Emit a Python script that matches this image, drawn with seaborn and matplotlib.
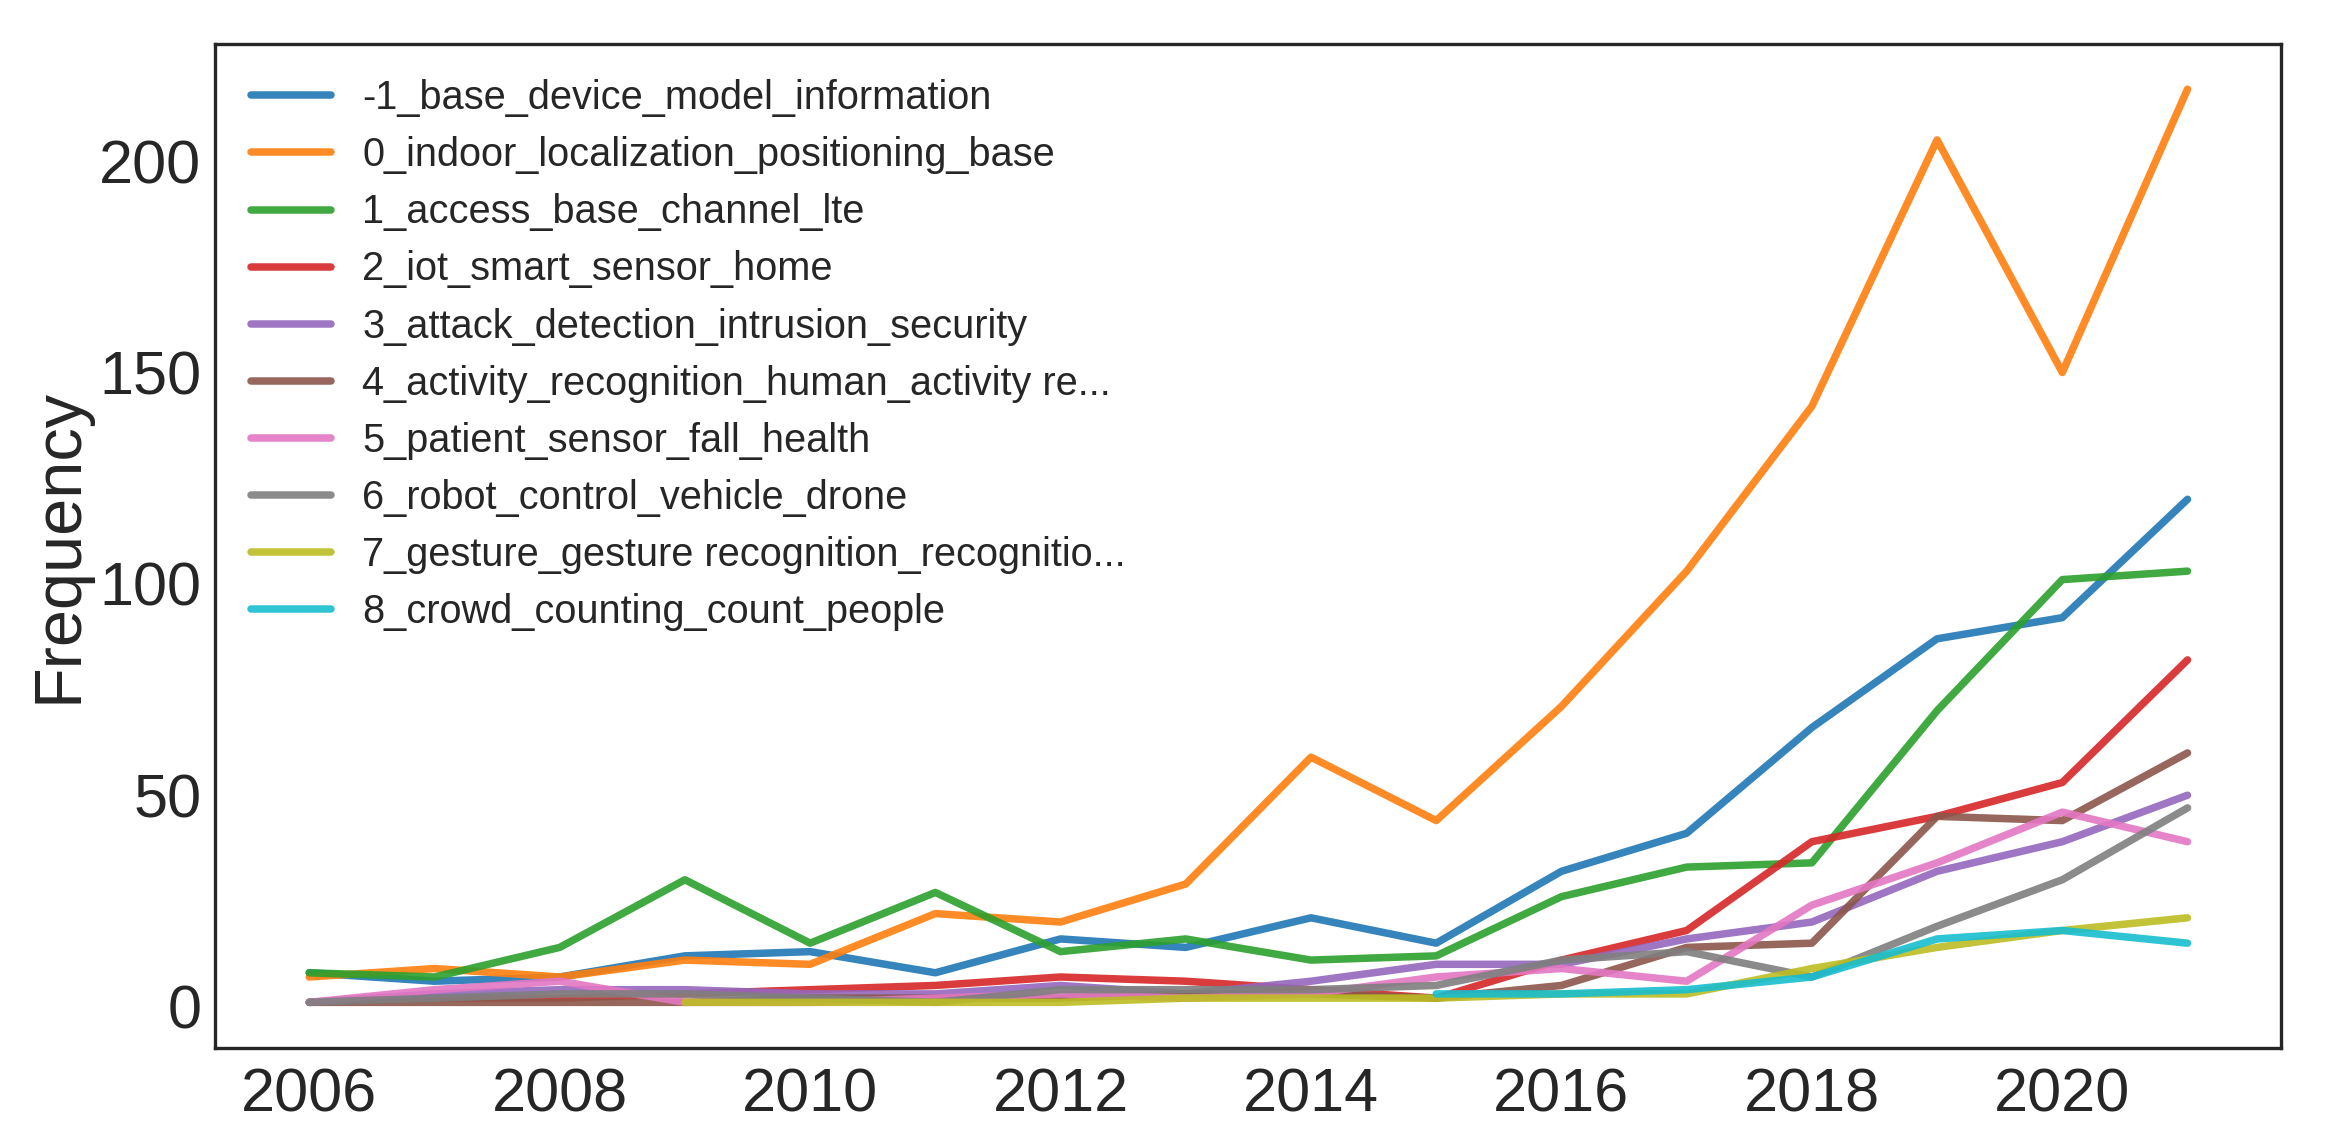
"""Topic frequency over time: one line per topic, seaborn lineplot."""
import matplotlib
matplotlib.use("Agg")
import matplotlib.pyplot as plt
import numpy as np
import pandas as pd
import seaborn as sns

YEARS = list(range(2006, 2022))

TOPICS = [
    "-1_base_device_model_information",
    "0_indoor_localization_positioning_base",
    "1_access_base_channel_lte",
    "2_iot_smart_sensor_home",
    "3_attack_detection_intrusion_security",
    "4_activity_recognition_human_activity re...",
    "5_patient_sensor_fall_health",
    "6_robot_control_vehicle_drone",
    "7_gesture_gesture recognition_recognitio...",
    "8_crowd_counting_count_people",
]

# frequencies per year, 2006..2021 (None = topic absent that year)
freq_base = [8, 6, 7, 12, 13, 8, 16, 14, 21, 15, 32, 41, 66, 87, 92, 120]
freq_indoor = [7, 9, 7, 11, 10, 22, 20, 29, 59, 44, 71, 103, 142, 205, 150, 217]
freq_access = [8, 7, 14, 30, 15, 27, 13, 16, 11, 12, 26, 33, 34, 70, 101, 103]
freq_iot = [1, 2, 2, 3, 4, 5, 7, 6, 4, 2, 11, 18, 39, 45, 53, 82]
freq_attack = [1, 3, 4, 4, 3, 3, 5, 3, 6, 10, 10, 16, 20, 32, 39, 50]
freq_activity = [1, 1, 1, 1, 2, 2, 2, 3, 3, 2, 5, 14, 15, 45, 44, 60]
freq_patient = [1, 4, 6, 1, 1, 2, 3, 2, 3, 7, 9, 6, 24, 34, 46, 39]
freq_robot = [1, 2, 3, 3, 2, 1, 4, 4, 4, 5, 11, 13, 7, 19, 30, 47]
freq_gesture = [None, None, None, 1, 1, 1, 1, 2, 2, 2, 3, 3, 9, 14, 18, 21]
freq_crowd = [None] * 9 + [3, 3, 4, 7, 16, 18, 15]

SERIES = [freq_base, freq_indoor, freq_access, freq_iot, freq_attack,
          freq_activity, freq_patient, freq_robot, freq_gesture, freq_crowd]


def build_frame() -> pd.DataFrame:
    rows = []
    for topic, values in zip(TOPICS, SERIES):
        for year, v in zip(YEARS, values):
            if v is not None:
                rows.append({"Timestamp": year, "Frequency": v, "Topic": topic})
    return pd.DataFrame(rows)


def plot(output_path: str = "out.png") -> None:
    sns.set_style("white")
    plt.rcParams["font.family"] = ["Liberation Sans", "DejaVu Sans"]

    df = build_frame()
    fig, ax = plt.subplots(figsize=(11.64, 5.73), dpi=200)
    sns.lineplot(
        data=df, x="Timestamp", y="Frequency", hue="Topic",
        hue_order=TOPICS, palette="tab10", linewidth=2.7, alpha=0.9, ax=ax,
    )

    for spine in ax.spines.values():
        spine.set_visible(True)
        spine.set_color("#262626")
        spine.set_linewidth(1.2)

    ax.set_xlabel("")
    ax.set_ylabel("Frequency", fontsize=24, labelpad=3)
    ax.tick_params(axis="both", labelsize=22)
    ax.tick_params(axis="y", pad=1.5)
    ax.set_yticks([0, 50, 100, 150, 200])

    leg = ax.legend(loc="upper left", fontsize=14.3, frameon=False, labelspacing=0.48)
    for line in leg.get_lines():
        line.set_linewidth(2.7)
        line.set_alpha(0.9)

    fig.subplots_adjust(left=0.0925, right=0.98, top=0.962, bottom=0.0855)
    fig.savefig(output_path, dpi=200)
    plt.close(fig)


if __name__ == "__main__":
    plot()
